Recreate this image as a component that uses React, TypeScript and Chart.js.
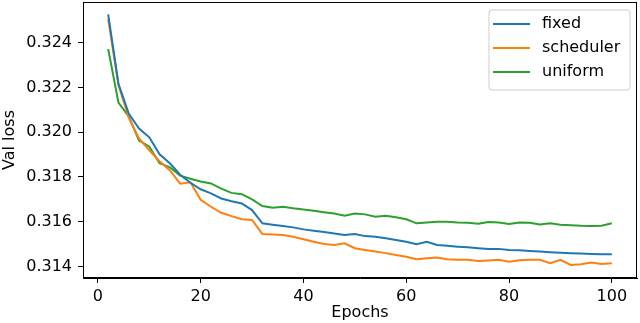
import React, { useEffect, useRef } from "react";
import { Chart, registerables } from "chart.js";

Chart.register(...registerables);

const epochs = [2, 4, 6, 8, 10, 12, 14, 16, 18, 20, 22, 24, 26, 28, 30, 32, 34, 36, 38, 40, 42, 44, 46, 48, 50, 52, 54, 56, 58, 60, 62, 64, 66, 68, 70, 72, 74, 76, 78, 80, 82, 84, 86, 88, 90, 92, 94, 96, 98, 100];

const fixedLoss = [0.32526, 0.32216, 0.32083, 0.32016, 0.31977, 0.31901, 0.31861, 0.3181, 0.31774, 0.31745, 0.31727, 0.31704, 0.31692, 0.31682, 0.31652, 0.31593, 0.31587, 0.31581, 0.31575, 0.31566, 0.3156, 0.31554, 0.31548, 0.31541, 0.31545, 0.31536, 0.31533, 0.31526, 0.31519, 0.31511, 0.315, 0.31511, 0.31496, 0.31493, 0.31489, 0.31486, 0.31482, 0.31479, 0.31479, 0.31474, 0.31473, 0.3147, 0.31467, 0.31464, 0.31462, 0.3146, 0.31458, 0.31456, 0.31455, 0.31455];

const schedulerLoss = [0.32505, 0.3221, 0.32065, 0.31972, 0.31919, 0.3187, 0.3183, 0.3177, 0.31776, 0.31698, 0.31667, 0.3164, 0.31625, 0.31611, 0.31608, 0.31545, 0.31543, 0.31541, 0.31533, 0.31522, 0.31511, 0.31501, 0.31496, 0.31504, 0.31482, 0.31474, 0.31467, 0.3146, 0.31452, 0.31444, 0.31433, 0.31437, 0.3144, 0.31433, 0.3143, 0.3143, 0.31425, 0.31427, 0.3143, 0.31422, 0.31428, 0.3143, 0.3143, 0.31415, 0.3143, 0.31407, 0.3141, 0.31418, 0.31412, 0.31415];

const uniformLoss = [0.32371, 0.32132, 0.3207, 0.31963, 0.31935, 0.31861, 0.31843, 0.31806, 0.31792, 0.3178, 0.31771, 0.31748, 0.31729, 0.31723, 0.317, 0.3167, 0.31663, 0.31667, 0.3166, 0.31655, 0.31649, 0.31643, 0.31637, 0.31627, 0.31637, 0.31633, 0.31622, 0.31627, 0.3162, 0.31611, 0.31593, 0.31597, 0.316, 0.316, 0.31597, 0.31596, 0.31591, 0.31599, 0.31597, 0.3159, 0.31597, 0.31596, 0.31588, 0.31593, 0.31587, 0.31585, 0.31582, 0.31581, 0.31582, 0.31593];

const seriesLabels = ["fixed", "scheduler", "uniform"];
const seriesColors = ["#1f77b4", "#ff7f0e", "#2ca02c"];
const xTicks = [0, 20, 40, 60, 80, 100];
const yTicks = [0.314, 0.316, 0.318, 0.32, 0.322, 0.324];

const FONT = "'DejaVu Sans', sans-serif";
const FS = 16;

const frameAndLegend = {
  id: "frameAndLegend",
  afterDraw(chart: any) {
    const { ctx, chartArea } = chart;
    ctx.save();
    ctx.strokeStyle = "#000";
    ctx.lineWidth = 1;
    ctx.strokeRect(chartArea.left + 0.5, chartArea.top + 0.5, chartArea.right - chartArea.left - 1, chartArea.bottom - chartArea.top - 1);

    const w = 141;
    const h = 80;
    const x0 = chartArea.right - 7 - w;
    const y0 = chartArea.top + 8;
    const r = 3;
    ctx.beginPath();
    ctx.moveTo(x0 + r, y0);
    ctx.lineTo(x0 + w - r, y0);
    ctx.arcTo(x0 + w, y0, x0 + w, y0 + r, r);
    ctx.lineTo(x0 + w, y0 + h - r);
    ctx.arcTo(x0 + w, y0 + h, x0 + w - r, y0 + h, r);
    ctx.lineTo(x0 + r, y0 + h);
    ctx.arcTo(x0, y0 + h, x0, y0 + h - r, r);
    ctx.lineTo(x0, y0 + r);
    ctx.arcTo(x0, y0, x0 + r, y0, r);
    ctx.closePath();
    ctx.fillStyle = "rgba(255,255,255,0.8)";
    ctx.fill();
    ctx.strokeStyle = "#cccccc";
    ctx.stroke();

    chart.data.datasets.forEach((ds: any, i: number) => {
      const yy = y0 + 14 + i * 24;
      ctx.beginPath();
      ctx.strokeStyle = ds.borderColor;
      ctx.lineWidth = 2;
      ctx.moveTo(x0 + 4, yy);
      ctx.lineTo(x0 + 41, yy);
      ctx.stroke();
      ctx.fillStyle = "#000";
      ctx.font = `${FS}px ${FONT}`;
      ctx.textBaseline = "middle";
      ctx.textAlign = "left";
      ctx.fillText(ds.label, x0 + 53, yy);
    });
    ctx.restore();
  },
};

export default function App() {
  const ref = useRef<HTMLCanvasElement | null>(null);
  useEffect(() => {
    if (!ref.current) return;
    const series = [fixedLoss, schedulerLoss, uniformLoss];
    const chart = new Chart(ref.current, {
      type: "line",
      data: {
        datasets: series.map((vals, i) => ({
          label: seriesLabels[i],
          data: epochs.map((e, j) => ({ x: e, y: vals[j] })),
          borderColor: seriesColors[i],
          backgroundColor: seriesColors[i],
          borderWidth: 2,
          pointRadius: 0,
          tension: 0,
          fill: false,
        })),
      },
      options: {
        animation: false,
        responsive: false,
        layout: { padding: { top: 2, right: 3, left: 0, bottom: 0 } },
        plugins: { legend: { display: false }, tooltip: { enabled: false } },
        scales: {
          x: {
            type: "linear",
            min: -2.9,
            max: 104.9,
            afterBuildTicks: (s: any) => {
              s.ticks = xTicks.map((v) => ({ value: v }));
            },
            afterFit: (s: any) => {
              s.height = 45;
              s.paddingLeft = 0;
              s.paddingRight = 0;
            },
            grid: { display: true, drawOnChartArea: false, drawTicks: true, tickLength: 5, color: "#000" },
            border: { display: true, color: "#000" },
            ticks: { color: "#000", font: { family: FONT, size: FS }, padding: 4, maxRotation: 0 },
            title: { display: true, text: "Epochs", color: "#000", font: { family: FONT, size: FS }, padding: { top: 0, bottom: 1 } },
          },
          y: {
            type: "linear",
            min: 0.31349,
            max: 0.32581,
            afterBuildTicks: (s: any) => {
              s.ticks = yTicks.map((v) => ({ value: v }));
            },
            afterFit: (s: any) => {
              s.width = 83;
              s.paddingTop = 0;
              s.paddingBottom = 0;
            },
            grid: { display: true, drawOnChartArea: false, drawTicks: true, tickLength: 5, color: "#000" },
            border: { display: true, color: "#000" },
            ticks: {
              color: "#000",
              font: { family: FONT, size: FS },
              padding: 6,
              callback: (v: any) => Number(v).toFixed(3),
            },
            title: { display: true, text: "Val loss", color: "#000", font: { family: FONT, size: FS }, padding: { top: 0, bottom: 0 } },
          },
        },
      },
      plugins: [frameAndLegend],
    });
    return () => chart.destroy();
  }, []);
  return (
    <div style={{ position: "fixed", left: 0, top: 0, width: 640, height: 323, background: "#fff" }}>
      <canvas ref={ref} width={640} height={323} />
    </div>
  );
}
